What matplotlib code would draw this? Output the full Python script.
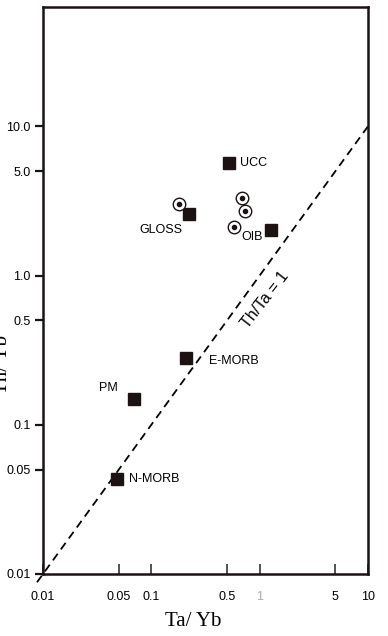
import matplotlib
matplotlib.use('Agg')
import matplotlib.pyplot as plt

# reference reservoirs (filled squares)
ref_names = ['UCC', 'GLOSS', 'OIB', 'E-MORB', 'PM', 'N-MORB']
ref_ta_yb = [0.52, 0.223, 1.27, 0.209, 0.069, 0.048]
ref_th_yb = [5.7, 2.6, 2.03, 0.279, 0.148, 0.0435]

# samples (dotted circles)
sample_ta_yb = [0.18, 0.687, 0.733, 0.58]
sample_th_yb = [3.03, 3.33, 2.72, 2.12]

xticks = [0.01, 0.05, 0.1, 0.5, 1, 5, 10]
xticklabels = ['0.01', '0.05', '0.1', '0.5', '1', '5', '10']
yticks = [0.01, 0.05, 0.1, 0.5, 1, 5, 10]
yticklabels = ['0.01', '0.05', '0.1', '0.5', '1.0', '5.0', '10.0']

# label offsets in pixels (dx, dy, ha)
label_pos = {
    'UCC': (11, 0, 'left'),
    'GLOSS': (-7, -16, 'right'),
    'OIB': (-8, -7, 'right'),
    'E-MORB': (23, -3, 'left'),
    'PM': (-16, 11, 'right'),
    'N-MORB': (12, 0, 'left'),
}

plt.rcParams['font.family'] = ['Liberation Sans', 'DejaVu Sans']
edge = '#1c1212'

fig = plt.figure(figsize=(3.88, 6.36), dpi=100)
ax = fig.add_axes([43 / 388, 62 / 636, 325 / 388, 567 / 636])
ax.set_xscale('log')
ax.set_yscale('log')
ax.set_xlim(0.01, 10)
ax.set_ylim(0.01, 63)

# Th/Ta = 1 reference line
ax.plot([0.0088, 10], [0.0088, 10], ls=(0, (4.5, 3)), color='black', lw=1.3,
        clip_on=False, zorder=2)
ax.text(1.12, 0.686, 'Th/Ta = 1', rotation=52, fontsize=11.5,
        ha='center', va='center')

ax.plot(ref_ta_yb, ref_th_yb, ls='none', marker='s', ms=8.5,
        color=edge, zorder=3)
for n, x, y in zip(ref_names, ref_ta_yb, ref_th_yb):
    dx, dy, ha = label_pos[n]
    ax.annotate(n, (x, y), xytext=(dx, dy), textcoords='offset pixels',
                ha=ha, va='center', fontsize=9)

ax.plot(sample_ta_yb, sample_th_yb, ls='none', marker='o', ms=9,
        mfc='white', mec=edge, mew=1.0, zorder=3)
ax.plot(sample_ta_yb, sample_th_yb, ls='none', marker='o', ms=3,
        color=edge, zorder=4)

for s in ax.spines.values():
    s.set_linewidth(1.8)
    s.set_color(edge)

ax.set_xticks(xticks)
ax.set_xticklabels(xticklabels)
ax.set_yticks(yticks)
ax.set_yticklabels(yticklabels)
ax.minorticks_off()
ax.tick_params(axis='x', direction='in', length=7, width=1.2, color='#333333',
               pad=12, labelsize=9)
ax.tick_params(axis='y', direction='out', length=6, width=1.6, color=edge,
               pad=3, labelsize=9)
ax.get_xticklabels()[4].set_color('#aaaaaa')

fig.text(193 / 388, 1 - 622 / 636, 'Ta/ Yb', family='Liberation Serif',
         fontsize=15, ha='center', va='center')
# y label sits half off the left edge, as in the scanned figure
fig.text(3 / 388, 1 - 365 / 636, 'Th/ Yb', family='Liberation Serif',
         fontsize=15, ha='center', va='center', rotation=90)

fig.savefig('out.png', dpi=100)
